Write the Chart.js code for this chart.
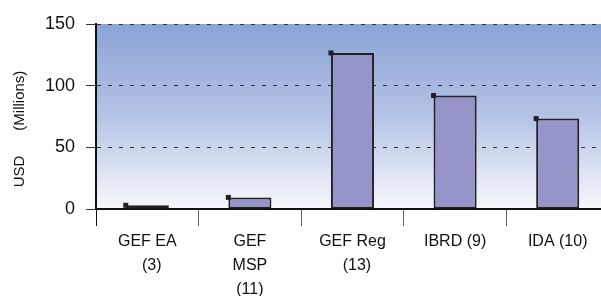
<!DOCTYPE html>
<html>
<head>
<meta charset="utf-8">
<script src="https://cdn.jsdelivr.net/npm/chart.js@4/dist/chart.umd.min.js"></script>
<style>
  html, body { margin: 0; padding: 0; background: #fff; overflow: hidden; }
  #wrap { width: 612px; height: 296px; }
</style>
</head>
<body>
<div id="wrap"><canvas id="myChart" width="612" height="296"></canvas></div>
<script>
const categories = [
    ["GEF EA", "  (3)"],
    ["GEF", "MSP", "(11)"],
    ["GEF Reg", "  (13)"],
    ["IBRD (9)"],
    ["IDA (10)"]
];
const amounts = [3, 9.4, 126.5, 92, 73.3];
const yTicks = [0, 50, 100, 150];

// gradient behind the plot, blue at the top fading to white
const plotBackground = {
    id: 'plotBackground',
    beforeDraw(chart) {
        const { ctx, chartArea: a } = chart;
        const g = ctx.createLinearGradient(0, a.top, 0, a.bottom);
        g.addColorStop(0, '#8aa3d6');
        g.addColorStop(0.5, '#b5c3e6');
        g.addColorStop(1, '#f7f8fc');
        ctx.save();
        ctx.fillStyle = g;
        ctx.fillRect(a.left, a.top, a.right - a.left, a.bottom - a.top);
        ctx.restore();
    }
};

// small black square on the top-left corner of every bar
const cornerMarks = {
    id: 'cornerMarks',
    afterDatasetsDraw(chart) {
        const ctx = chart.ctx;
        ctx.save();
        ctx.fillStyle = '#222';
        chart.getDatasetMeta(0).data.forEach((bar) => {
            const left = bar.x - bar.width / 2;
            ctx.fillRect(left - 2.5, bar.y - 2.5, 5, 5);
        });
        ctx.restore();
    }
};

const config = {
    type: 'bar',
    data: {
        labels: categories,
        datasets: [{
            data: amounts,
            backgroundColor: '#9595c9',
            borderColor: '#222',
            borderWidth: 2,
            borderSkipped: false,
            categoryPercentage: 1,
            barPercentage: 0.42
        }]
    },
    options: {
        responsive: false,
        animation: false,
        events: [],
        layout: { padding: { top: 24, right: 3, left: 0, bottom: 0 } },
        plugins: {
            legend: { display: false },
            tooltip: { enabled: false }
        },
        scales: {
            x: {
                offset: true,
                border: { display: true, color: '#111', width: 2 },
                grid: {
                    offset: true,
                    drawOnChartArea: false,
                    drawTicks: true,
                    tickLength: 17,
                    color: (c) => c.index === 0 ? '#111' : '#666',
                    lineWidth: 1
                },
                ticks: {
                    color: '#111',
                    padding: 4,
                    maxRotation: 0,
                    autoSkip: false,
                    font: { family: 'Liberation Sans, Arial, sans-serif', size: 16, lineHeight: 1.5 }
                },
                afterFit(scale) { scale.height = 87; }
            },
            y: {
                min: 0,
                max: 150,
                afterBuildTicks(scale) { scale.ticks = yTicks.map(v => ({ value: v })); },
                // border.dash in v4 is the dash of the grid lines
                border: { display: true, color: '#111', width: 2, dash: [4, 7] },
                grid: {
                    drawTicks: true,
                    tickLength: 10,
                    color: (c) => c.tick && c.tick.value === 0 ? 'rgba(0,0,0,0)' : '#333',
                    tickColor: '#333',
                    tickBorderDash: [],
                    lineWidth: 1
                },
                ticks: {
                    color: '#111',
                    padding: 11,
                    font: { family: 'Liberation Sans, Arial, sans-serif', size: 18 }
                },
                title: {
                    display: true,
                    text: 'USD      (Millions)      ',
                    color: '#111',
                    padding: { top: 11, bottom: 0 },
                    font: { family: 'Liberation Sans, Arial, sans-serif', size: 15 }
                },
                afterFit(scale) { scale.width = 96; }
            }
        }
    },
    plugins: [plotBackground, cornerMarks]
};

const myChart = new Chart(document.getElementById('myChart'), config);
</script>
</body>
</html>
